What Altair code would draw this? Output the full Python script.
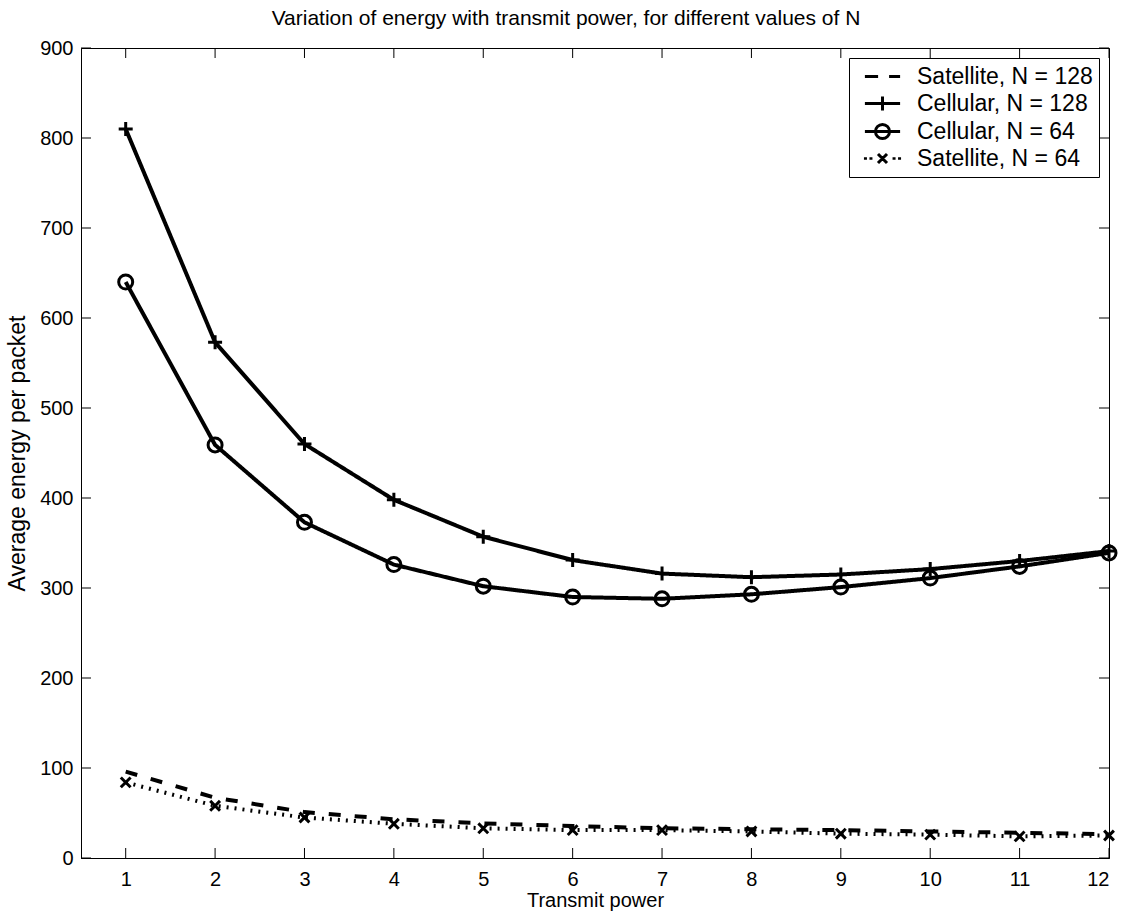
import altair as alt
import pandas as pd

power = list(range(1, 13))
sat128 = [96, 67, 51, 43, 38.5, 35.5, 33, 32, 31, 29.5, 28, 26.5]
cell128 = [810, 573, 460, 398, 357, 331, 316, 312, 315, 321, 330, 341]
cell64 = [640, 459, 373, 326, 302, 290, 288, 293, 301, 311, 324, 339]
sat64 = [84, 58, 45, 38, 33, 31, 31, 29.5, 27, 26, 24, 25]
series_names = ["Satellite, N = 128", "Cellular, N = 128", "Cellular, N = 64", "Satellite, N = 64"]
x_ticks = list(range(1, 13))
y_ticks = list(range(0, 1000, 100))

W, H = 1028, 810

rows = []
for name, vals in zip(series_names, [sat128, cell128, cell64, sat64]):
    for p, v in zip(power, vals):
        rows.append({"power": p, "energy": v, "series": name, "legend": name})
df = pd.DataFrame(rows)

xscale = alt.Scale(domain=[0.5, 12], nice=False, zero=False)
yscale = alt.Scale(domain=[0, 900], nice=False)

base = alt.Chart(df)

lines = base.mark_line(color="black").encode(
    x=alt.X("power:Q", scale=xscale,
            axis=alt.Axis(values=x_ticks, format="d", title="Transmit power", ticks=False, grid=False,
                          labelFontSize=20, titleFontSize=20, labelPadding=11, titlePadding=1,
                          titleFontWeight="normal", labelColor="black", titleColor="black",
                          domainColor="black")),
    y=alt.Y("energy:Q", scale=yscale,
            axis=alt.Axis(values=y_ticks, format="d", title="Average energy per packet", ticks=False,
                          grid=False, labelFontSize=20, titleFontSize=23, labelPadding=8,
                          titlePadding=10, titleFontWeight="normal", labelColor="black",
                          titleColor="black", domainColor="black")),
    detail="series:N",
    strokeDash=alt.StrokeDash("series:N", scale=alt.Scale(domain=series_names,
                              range=[[12, 14], [1, 0], [1, 0], [2, 6]]), legend=None),
    strokeWidth=alt.StrokeWidth("series:N", scale=alt.Scale(domain=series_names,
                                range=[4, 4, 4, 1.5]), legend=None),
)

marker_names = series_names[1:]
marker_paths = [
    "M-1,0H1M0,-1V1",
    "M1,0A1,1 0 1 1 -1,0A1,1 0 1 1 1,0",
    "M-0.7,-0.7L0.7,0.7M-0.7,0.7L0.7,-0.7",
]
points = base.transform_filter(
    alt.FieldOneOfPredicate(field="series", oneOf=marker_names)
).mark_point(filled=False, color="black", strokeWidth=3, size=196, opacity=1).encode(
    x=alt.X("power:Q", scale=xscale),
    y=alt.Y("energy:Q", scale=yscale),
    shape=alt.Shape("series:N", scale=alt.Scale(domain=marker_names, range=marker_paths), legend=None),
)

legend_paths = [
    "M-1.6,0H-0.4M0.6,0H1.6",
    "M-1.6,0H1.6M0,-0.64V0.64",
    "M-1.6,0H1.6M0.64,0A0.64,0.64 0 1 1 -0.64,0A0.64,0.64 0 1 1 0.64,0",
    "M-1.55,-0.12V0.12M-1.05,-0.12V0.12M1.05,-0.12V0.12M1.55,-0.12V0.12"
    "M-0.41,-0.41L0.41,0.41M-0.41,0.41L0.41,-0.41",
]
legend_layer = base.mark_point(filled=False, color="black", opacity=0, strokeWidth=3).encode(
    x=alt.X("power:Q", scale=xscale),
    y=alt.Y("energy:Q", scale=yscale),
    shape=alt.Shape("legend:N", scale=alt.Scale(domain=series_names, range=legend_paths),
                    legend=alt.Legend(title=None, orient="top-right", offset=10,
                                      symbolSize=484, symbolStrokeWidth=3, symbolOpacity=1,
                                      symbolStrokeColor="black", symbolFillColor="transparent",
                                      symbolOffset=15, labelOffset=22,
                                      labelFontSize=23, labelColor="black", rowPadding=1,
                                      padding=6, strokeColor="black", fillColor="white",
                                      labelLimit=400)),
)

xt = pd.DataFrame({"t": x_ticks})
yt = pd.DataFrame({"t": y_ticks})
xtick_b = alt.Chart(xt).mark_rule(color="black", strokeWidth=1).encode(
    x=alt.X("t:Q", scale=xscale), y=alt.value(H), y2=alt.value(H - 10))
xtick_t = alt.Chart(xt).mark_rule(color="black", strokeWidth=1).encode(
    x=alt.X("t:Q", scale=xscale), y=alt.value(0), y2=alt.value(10))
ytick_l = alt.Chart(yt).mark_rule(color="black", strokeWidth=1).encode(
    y=alt.Y("t:Q", scale=yscale), x=alt.value(0), x2=alt.value(10))
ytick_r = alt.Chart(yt).mark_rule(color="black", strokeWidth=1).encode(
    y=alt.Y("t:Q", scale=yscale), x=alt.value(W), x2=alt.value(W - 10))

chart = alt.layer(
    xtick_b, xtick_t, ytick_l, ytick_r, lines, points, legend_layer
).resolve_scale(shape="independent").properties(
    width=W, height=H,
    autosize=alt.AutoSizeParams(type="none"),
    padding={"left": 81, "top": 48, "right": 22, "bottom": 59},
    title=alt.TitleParams("Variation of energy with transmit power, for different values of N",
                          fontSize=21, fontWeight="normal", color="black", anchor="middle",
                          offset=9, dx=-29),
).configure(
    font="Liberation Sans",
).configure_view(
    stroke="black", strokeWidth=1
).configure_axis(
    domainWidth=1
)

chart.save("out.html", embed_options={"renderer": "svg", "actions": False})
